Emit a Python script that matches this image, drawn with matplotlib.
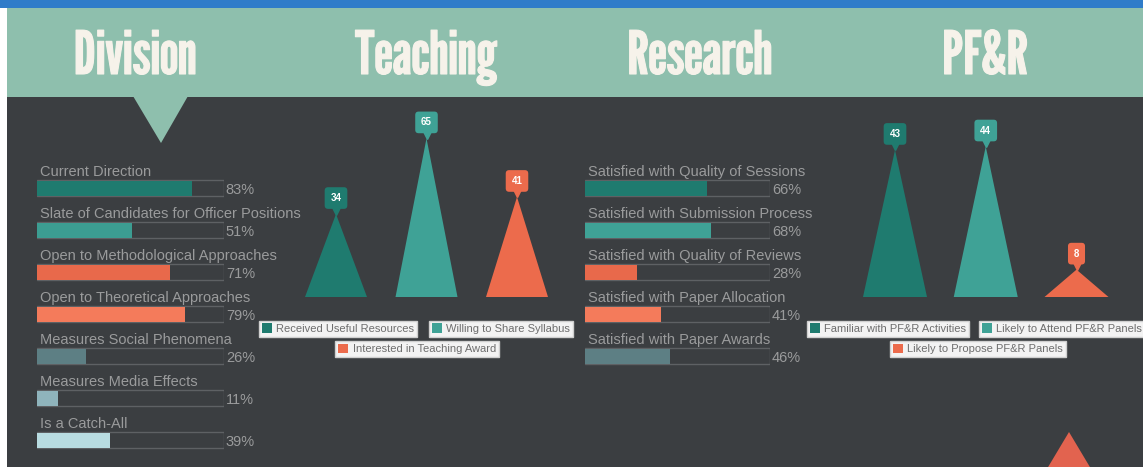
import matplotlib
matplotlib.use("Agg")
import matplotlib.pyplot as plt
import matplotlib.patheffects as pe
from matplotlib.transforms import offset_copy
from matplotlib.patches import Rectangle, Polygon

# ---------------- data ----------------
section_titles = ["Division", "Teaching", "Research", "PF&R"]

division_labels = ["Current Direction", "Slate of Candidates for Officer Positions",
                   "Open to Methodological Approaches", "Open to Theoretical Approaches",
                   "Measures Social Phenomena", "Measures Media Effects", "Is a Catch-All"]
division_values = [83, 51, 71, 79, 26, 11, 39]
division_colors = ["#1f7b6f", "#3c9d92", "#e8694b", "#f47b5b", "#5d7f84", "#8fb4bc", "#b8dce1"]

teaching_labels = ["Received Useful Resources", "Willing to Share Syllabus",
                   "Interested in Teaching Award"]
teaching_values = [34, 65, 41]
teaching_colors = ["#1f7b6f", "#3fa296", "#ec6b4c"]

research_labels = ["Satisfied with Quality of Sessions", "Satisfied with Submission Process",
                   "Satisfied with Quality of Reviews", "Satisfied with Paper Allocation",
                   "Satisfied with Paper Awards"]
research_values = [66, 68, 28, 41, 46]
research_colors = ["#1f7b6f", "#3fa296", "#e8694b", "#f47b5b", "#5d7f84"]

pfr_labels = ["Familiar with PF&R Activities", "Likely to Attend PF&R Panels",
              "Likely to Propose PF&R Panels"]
pfr_values = [43, 44, 8]
pfr_colors = ["#1f7b6f", "#3fa296", "#ec6b4c"]

# ---------------- style ----------------
W, H = 1143, 467
BG = "#3b3e41"
HEADER = "#8ebfad"
BLUE = "#2f7cc9"
TITLE_C = "#f6f2ea"
LABEL_C = "#9a9b9c"
TRACK_EDGE = "#5e6164"
FONT = ["Liberation Sans", "DejaVu Sans"]
TITLE_FONT = ["League Gothic", "DejaVu Sans"]

fig = plt.figure(figsize=(W / 100, H / 100), dpi=100, facecolor=BG)

bg = fig.add_axes([0, 0, 1, 1])
bg.set_xlim(0, W)
bg.set_ylim(H, 0)
bg.axis("off")
bg.add_patch(Rectangle((0, 0), 7, H, color="white", lw=0))
bg.add_patch(Rectangle((0, 0), W, 8, color=BLUE, lw=0))
bg.add_patch(Rectangle((7, 8), W - 7, 89, color=HEADER, lw=0))
bg.add_patch(Polygon([(133, 96), (188, 96), (161, 143)], closed=True, color=HEADER, lw=0))
bg.add_patch(Polygon([(1069, 432), (1047.5, 468), (1090.5, 468)], closed=True,
                     color="#e2634f", lw=0))

title_x = [135, 426, 700, 985]
for t, x in zip(section_titles, title_x):
    bg.text(x, 74, t, ha="center", va="baseline", color=TITLE_C, fontsize=43,
            family=TITLE_FONT,
            path_effects=[pe.withStroke(linewidth=0.8, foreground=TITLE_C)])


def px_axes(x0, y0, x1, y1):
    return fig.add_axes([x0 / W, 1 - y1 / H, (x1 - x0) / W, (y1 - y0) / H])


def bar_panel(x0, x1, ytop, labels, values, colors):
    n = len(labels)
    ax = px_axes(x0, ytop, x1, ytop + 42 * n)
    ax.set_xlim(0, 100)
    ax.set_ylim(n - 0.5, -0.5)
    ax.axis("off")
    pos = list(range(n))
    ax.barh(pos, [100] * n, height=16 / 42, color=BG, edgecolor=TRACK_EDGE, lw=1)
    ax.barh(pos, values, height=15 / 42, color=colors, lw=0)
    for i, (lab, v) in enumerate(zip(labels, values)):
        ax.text(1.5, i - 0.29, lab, ha="left", va="baseline", color=LABEL_C,
                fontsize=10.5, family=FONT, clip_on=False)
        ax.text(101, i + 0.15, f"{v}%", ha="left", va="baseline", color=LABEL_C,
                fontsize=10.5, family=FONT, clip_on=False)
    return ax


bar_panel(37, 224, 167, division_labels, division_values, division_colors)
bar_panel(585, 770, 167, research_labels, research_values, research_colors)


def tri_panel(xc0, spacing, width_px, scale, ymax, labels, values, colors, leg_pos):
    x0 = xc0 - spacing / 2
    x1 = xc0 + 2.5 * spacing
    ax = px_axes(x0, 297 - scale * ymax, x1, 297)
    ax.set_xlim(-0.5, 2.5)
    ax.set_ylim(0, ymax)
    ax.axis("off")
    w = width_px / spacing
    patches = []
    txt_tr = offset_copy(ax.transData, fig=fig, x=0, y=16, units="dots")
    ptr_tr = offset_copy(ax.transData, fig=fig, x=0, y=3.5, units="dots")
    for i, (v, c) in enumerate(zip(values, colors)):
        p, = ax.fill([i - w / 2, i, i + w / 2], [0, v, 0], color=c, lw=0)
        patches.append(p)
        ax.plot([i], [v], marker="v", ms=5.5, color=c, transform=ptr_tr, clip_on=False)
        ax.text(i, v, str(v), transform=txt_tr, ha="center", va="center", color="white",
                fontsize=7, fontweight="bold", family=FONT, clip_on=False,
                bbox=dict(boxstyle="round,pad=0.6,rounding_size=0.35", fc=c, ec="none"))
    for p, lab, (cx, cy) in zip(patches, labels, leg_pos):
        fig.legend(handles=[p], labels=[lab], loc="center",
                   bbox_to_anchor=(cx / W, 1 - cy / H), frameon=True, fancybox=False,
                   facecolor="#f3f3f3", edgecolor="#cfcfcf", framealpha=1,
                   prop=dict(family=FONT, size=8), labelcolor="#6e6e6e",
                   handlelength=0.9, handleheight=0.9, handletextpad=0.4,
                   borderpad=0.25, borderaxespad=0)
    return ax


tri_panel(336, 90.5, 62, 2.44, 75, teaching_labels, teaching_values, teaching_colors,
          [(338, 328.5), (501, 328.5), (417, 349)])
tri_panel(895, 90.75, 64, 3.42, 55, pfr_labels, pfr_values, pfr_colors,
          [(888, 328.5), (1062, 328.5), (978, 349)])

fig.savefig("out.png", dpi=100, facecolor=BG)
